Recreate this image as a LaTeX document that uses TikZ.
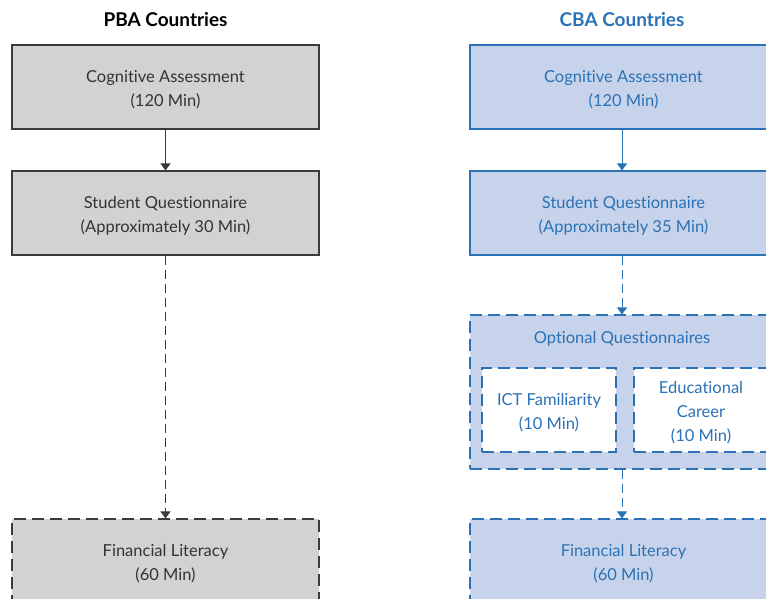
\documentclass[tikz,border=0pt]{standalone}
\usepackage{fontspec}
\setmainfont{Lato}[Ligatures={NoCommon}]
\usetikzlibrary{arrows.meta}
\definecolor{gfill}{HTML}{D1D2D4}
\definecolor{gline}{HTML}{3A3A3A}
\definecolor{gtext}{HTML}{333333}
\definecolor{bfill}{HTML}{C7D3EA}
\definecolor{bline}{HTML}{2A72B5}
\newcommand{\bxt}[1]{\raisebox{-3pt}[\height][\depth]{\begin{tabular}{@{}c@{}}#1\end{tabular}}}
\tikzset{
  every node/.style={font=\fontsize{16.5}{24}\selectfont, align=center, inner sep=0pt},
  gbox/.style={draw=gline, fill=gfill, text=gtext, line width=1.1pt, minimum width=307pt, minimum height=84pt},
  bbox/.style={draw=bline, fill=bfill, text=bline, line width=1.1pt, minimum width=307pt, minimum height=84pt},
  boxdash/.style={dash pattern=on 12pt off 6pt},
  ibox/.style={draw=bline, fill=white, text=bline, line width=1.1pt, boxdash, minimum width=134pt, minimum height=84pt},
  garrow/.style={draw=gline, line width=0.9pt, -{Triangle[width=10pt,length=7pt]}},
  barrow/.style={draw=bline, line width=0.9pt, -{Triangle[width=10pt,length=7pt]}},
  cdash/.style={dash pattern=on 9pt off 5pt},
  ttl/.style={font=\bfseries\fontsize{19}{22}\selectfont}
}
\begin{document}
\begin{tikzpicture}[x=1pt,y=-1pt]
\useasboundingbox (0,0) rectangle (766,598);
\clip (0,0) rectangle (766,598);
% titles
\node[ttl, text=black] (tp) at (165.5,20) {PBA Countries};
\node[ttl, text=bline] (tc) at (622,20) {CBA Countries};
% left column
\node[gbox] (lc) at (165.5,87) {\bxt{Cognitive Assessment\\(120 Min)}};
\node[gbox] (ls) at (165.5,213) {\bxt{Student Questionnaire\\(Approximately 30 Min)}};
\node[gbox, boxdash] (lf) at (165.5,561) {\bxt{Financial Literacy\\(60 Min)}};
\draw[garrow] (lc) -- (ls);
\draw[garrow, cdash] (ls) -- (lf);
% right column
\node[bbox] (rc) at (623.5,87) {\bxt{Cognitive Assessment\\(120 Min)}};
\node[bbox] (rs) at (623.5,213) {\bxt{Student Questionnaire\\(Approximately 35 Min)}};
\node[bbox, boxdash, minimum height=154pt] (ro) at (623.5,392) {};
\node[text=bline] (rot) at (622,339) {Optional Questionnaires};
\node[ibox] (ict) at (549,410) {\bxt{ICT Familiarity\\(10 Min)}};
\node[ibox] (edu) at (701,410) {\bxt{Educational\\Career\\(10 Min)}};
\node[bbox, boxdash] (rf) at (623.5,561) {\bxt{Financial Literacy\\(60 Min)}};
\draw[barrow] (rc.south -| 622,0) -- (rs.north -| 622,0);
\draw[barrow, cdash] (rs.south -| 622,0) -- (ro.north -| 622,0);
\draw[barrow, cdash] (ro.south -| 622,0) -- (rf.north -| 622,0);
\end{tikzpicture}
\end{document}
